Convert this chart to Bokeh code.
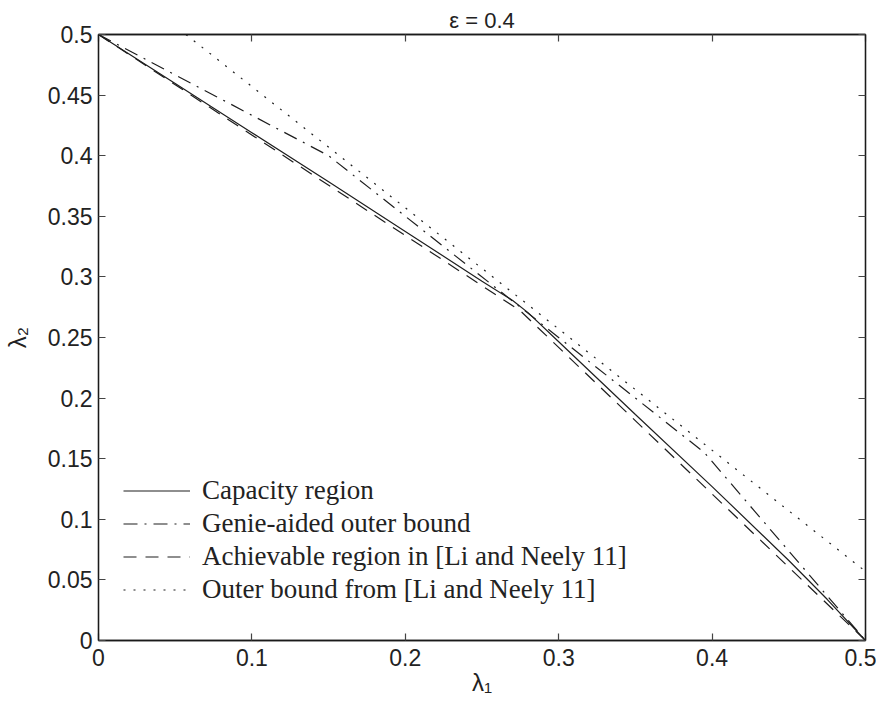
from bokeh.plotting import figure
from bokeh.models import Range1d, FixedTicker, LinearAxis, Legend, LegendItem
from bokeh.embed import file_html
from bokeh.resources import INLINE

# ---- data ----
cap_x = [0.0, 0.05, 0.10, 0.15, 0.20, 0.25, 0.27, 0.28, 0.30, 0.35, 0.40, 0.45, 0.475, 0.50]
cap_y = [0.5, 0.4595, 0.419, 0.3785, 0.3375, 0.2965, 0.2805, 0.2705, 0.2465, 0.1865, 0.127, 0.066, 0.034, 0.0]

genie_x = [0.0, 0.15, 0.395, 0.5]
genie_y = [0.5, 0.40, 0.155, 0.0]

ach_x = [0.0, 0.275, 0.5]
ach_y = [0.5, 0.272, 0.0]

outer_x = [0.057, 0.5]
outer_y = [0.5, 0.057]

series_names = ["Capacity region", "Genie-aided outer bound",
                "Achievable region in [Li and Neely 11]", "Outer bound from [Li and Neely 11]"]

x_ticks = [0, 0.1, 0.2, 0.3, 0.4, 0.5]
x_tick_labels = ["0", "0.1", "0.2", "0.3", "0.4", "0.5"]
y_ticks = [0, 0.05, 0.1, 0.15, 0.2, 0.25, 0.3, 0.35, 0.4, 0.45, 0.5]
y_tick_labels = ["0", "0.05", "0.1", "0.15", "0.2", "0.25", "0.3", "0.35", "0.4", "0.45", "0.5"]

title_text = "ε = 0.4"
x_label = "λ₁"
y_label = "λ₂"

# ---- figure ----
p = figure(width=876, height=702, output_backend="svg", toolbar_location=None,
           x_range=Range1d(0, 0.5), y_range=Range1d(0, 0.5),
           min_border_left=95, min_border_right=11, min_border_top=34, min_border_bottom=62)
p.xgrid.visible = False
p.ygrid.visible = False
p.outline_line_color = "#1a1a1a"
p.outline_line_width = 1.3
p.background_fill_color = "white"
p.border_fill_color = "white"

p.title.text = title_text
p.title.align = "center"
p.title.text_font = "Liberation Sans"
p.title.text_font_size = "22px"
p.title.text_font_style = "normal"
p.title.text_color = "#222222"
p.title.standoff = 4
p.title.offset = 0

def style_axis(ax, ticks, labels, show_labels):
    ax.ticker = FixedTicker(ticks=ticks)
    ax.major_tick_in = 7
    ax.major_tick_out = 0
    ax.major_tick_line_color = "#444444"
    ax.major_tick_line_width = 1.2
    ax.minor_tick_line_color = None
    ax.axis_line_color = "#1a1a1a"
    ax.axis_line_width = 1.3
    ax.major_label_text_font = "Liberation Sans"
    ax.major_label_text_color = "#222222"
    if show_labels:
        ax.major_label_overrides = {t: l for t, l in zip(ticks, labels)}
        ax.major_label_text_font_size = "23px"
    else:
        ax.major_label_overrides = {t: "" for t in ticks}
        ax.major_label_text_font_size = "8px"
        ax.major_label_standoff = 0

xa = p.xaxis[0]
ya = p.yaxis[0]
style_axis(xa, x_ticks, x_tick_labels, True)
style_axis(ya, y_ticks, y_tick_labels, True)
xa.major_label_standoff = 8
ya.major_label_standoff = 6

xa.axis_label = x_label
xa.axis_label_text_font = "Liberation Sans"
xa.axis_label_text_font_size = "24px"
xa.axis_label_text_font_style = "normal"
xa.axis_label_text_color = "#222222"
xa.axis_label_standoff = 0

ya.axis_label = y_label
ya.axis_label_text_font = "Liberation Sans"
ya.axis_label_text_font_size = "24px"
ya.axis_label_text_font_style = "normal"
ya.axis_label_text_color = "#222222"
ya.axis_label_standoff = 14

top_ax = LinearAxis()
style_axis(top_ax, x_ticks, x_tick_labels, False)
p.add_layout(top_ax, "above")
right_ax = LinearAxis()
style_axis(right_ax, y_ticks, y_tick_labels, False)
p.add_layout(right_ax, "right")

col = "#1e1e1e"
r_cap = p.line(cap_x, cap_y, line_color=col, line_width=1.2)
r_gen = p.line(genie_x, genie_y, line_color=col, line_width=1.2, line_dash="14 7 2 7")
r_ach = p.line(ach_x, ach_y, line_color=col, line_width=1.2, line_dash="13 9")
r_out = p.line(outer_x, outer_y, line_color=col, line_width=1.2, line_dash="2 8")

legend = Legend(items=[LegendItem(label=series_names[0], renderers=[r_cap]),
                       LegendItem(label=series_names[1], renderers=[r_gen]),
                       LegendItem(label=series_names[2], renderers=[r_ach]),
                       LegendItem(label=series_names[3], renderers=[r_out])],
                location=(25, 34), border_line_color=None, background_fill_alpha=0.0,
                padding=0, margin=0, spacing=0, glyph_width=67, glyph_height=33,
                label_height=33, label_standoff=12,
                label_text_font="Liberation Serif", label_text_font_size="27px",
                label_text_color="#222222")
p.add_layout(legend, "center")

open("out.html", "w").write(file_html(p, INLINE))
